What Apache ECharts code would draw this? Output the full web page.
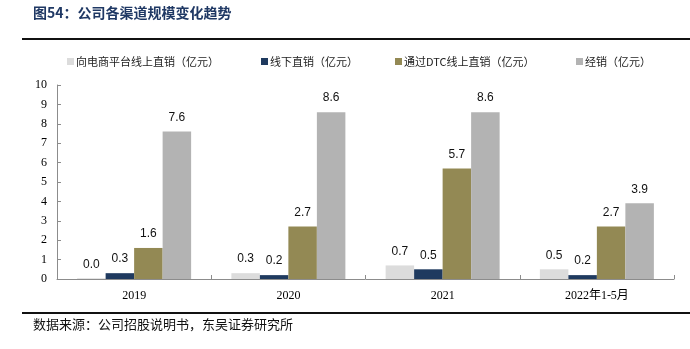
<!DOCTYPE html>
<html>
<head>
<meta charset="utf-8">
<script src="https://cdn.jsdelivr.net/npm/echarts@6/dist/echarts.min.js"></script>
<style>
  html, body { margin: 0; padding: 0; background: #fff; }
  #chart { width: 690px; height: 349px; }
</style>
</head>
<body>
<div id="chart"></div>
<script>
// Channel revenue by year (亿元)
const categories = ['2019', '2020', '2021', '2022年1-5月'];
const seriesNames = ['向电商平台线上直销（亿元）', '线下直销（亿元）', '通过DTC线上直销（亿元）', '经销（亿元）'];
const ecommerceDirect = [0.04, 0.3, 0.7, 0.5];
const offlineDirect = [0.3, 0.2, 0.5, 0.2];
const dtcOnline = [1.6, 2.7, 5.7, 2.7];
const distribution = [7.6, 8.6, 8.6, 3.9];
const yTicks = [0, 1, 2, 3, 4, 5, 6, 7, 8, 9, 10];

const colors = ['#DCDCDC', '#1F3A5F', '#938954', '#B3B3B3'];
const values = [ecommerceDirect, offlineDirect, dtcOnline, distribution];
const legendLeft = [62, 256, 390, 571];

const serifFont = '"Liberation Serif", "Noto Sans CJK SC", serif';
const cjkFont = '"Noto Sans CJK SC", "Liberation Serif", serif';

const chart = echarts.init(document.getElementById('chart'));

chart.setOption({
  animation: false,
  backgroundColor: '#fff',
  grid: { left: 57, right: 16, top: 85, bottom: 70 },
  legend: seriesNames.map((name, i) => ({
    data: [name],
    left: legendLeft[i],
    top: 51,
    icon: 'rect',
    itemWidth: 7,
    itemHeight: 7,
    itemGap: 2,
    textStyle: { fontFamily: cjkFont, fontSize: 11, color: '#222', padding: [0, 0, 0, -3] }
  })),
  xAxis: {
    type: 'category',
    data: categories,
    axisLine: { lineStyle: { color: '#8c8c8c', width: 1 } },
    axisTick: { show: true, inside: true, length: 4, lineStyle: { color: '#8c8c8c' } },
    axisLabel: { fontFamily: serifFont, fontSize: 12, color: '#000', margin: 11 }
  },
  yAxis: {
    type: 'value',
    min: yTicks[0],
    max: yTicks[yTicks.length - 1],
    interval: 1,
    splitLine: { show: false },
    axisLine: { show: true, lineStyle: { color: '#8c8c8c', width: 1 } },
    axisTick: { show: true, inside: true, length: 4, lineStyle: { color: '#8c8c8c' } },
    axisLabel: { fontFamily: serifFont, fontSize: 12, color: '#000', margin: 10 }
  },
  series: seriesNames.map((name, i) => ({
    name: name,
    type: 'bar',
    data: values[i],
    barWidth: 28.5,
    barGap: '0%',
    itemStyle: { color: colors[i] },
    label: {
      show: true,
      position: 'top',
      distance: 8,
      fontFamily: '"Liberation Sans", Arial, sans-serif',
      fontSize: 12,
      color: '#111',
      formatter: p => p.value.toFixed(1)
    }
  })),
  graphic: [
    {
      type: 'text', left: 33, top: 6,
      style: { text: '图54：公司各渠道规模变化趋势', font: 'bold 14px "Noto Sans CJK SC"', fill: '#1F3864' }
    },
    {
      type: 'rect', shape: { x: 22, y: 38, width: 668, height: 2 },
      style: { fill: '#111' }
    },
    {
      type: 'rect', shape: { x: 22, y: 312, width: 668, height: 2 },
      style: { fill: '#111' }
    },
    {
      type: 'text', left: 33, top: 318,
      style: { text: '数据来源：公司招股说明书，东吴证券研究所', font: '13px "Noto Sans CJK SC"', fill: '#111' }
    }
  ]
});
</script>
</body>
</html>
